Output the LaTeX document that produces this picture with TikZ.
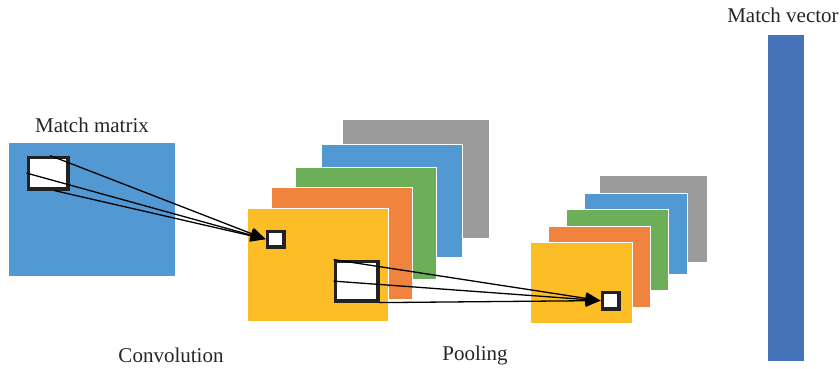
\documentclass[tikz,border=0pt]{standalone}
\usepackage{fontspec}
\setmainfont{Liberation Serif}
\usetikzlibrary{arrows.meta,calc}
\definecolor{mblue}{HTML}{5298D2}
\definecolor{myellow}{HTML}{FDBD26}
\definecolor{morange}{HTML}{F0843F}
\definecolor{mgreen}{HTML}{6CAF58}
\definecolor{mgray}{HTML}{9B9B9C}
\definecolor{mvec}{HTML}{4672B9}
\definecolor{mframe}{HTML}{222222}
\tikzset{
  sheet/.style={draw=white, line width=1pt, inner sep=0pt, anchor=north west},
  window/.style={draw=mframe, fill=white, line width=3.2pt, inner sep=0pt, anchor=north west},
  link/.style={line width=1.3pt, black},
  linktip/.style={link, -{Triangle[length=15pt,width=12pt]}},
  caption/.style={font=\fontsize{21}{25}\selectfont, text=black!85, inner sep=0pt}
}
\newcommand{\sheetat}[6]{% name, colour, x0, y0, x1, y1
  \node[sheet, fill=#2, minimum width={(#5-#3)*1pt}, minimum height={(#6-#4)*1pt}] (#1) at (#3,#4) {};}
% frame given by its outer edges; the stroke is centred on the path
\newcommand{\windowat}[5]{% name, x0, y0, x1, y1
  \node[window, minimum width={(#4-#2-3.2)*1pt}, minimum height={(#5-#3-3.2)*1pt}] (#1) at (#2+1.6,#3+1.6) {};}
\begin{document}
\begin{tikzpicture}[x=1pt, y=-1pt]
\useasboundingbox (0,0) rectangle (840,368);

% input matrix
\node[inner sep=0pt, anchor=north west, fill=mblue, minimum width=166pt, minimum height=133pt] (mm) at (9,143) {};
\node[caption] (mmlabel) at (92,125) {Match matrix};

% convolution feature maps, back to front
\sheetat{cgray}{mgray}{342}{119}{489}{238}
\sheetat{cblue}{mblue}{321}{144}{462}{257}
\sheetat{cgreen}{mgreen}{295}{167}{436}{279}
\sheetat{corange}{morange}{271}{187}{412}{299}
\sheetat{cyellow}{myellow}{247}{208}{388}{321}

% pooling feature maps, back to front
\sheetat{pgray}{mgray}{599}{175}{707}{262}
\sheetat{pblue}{mblue}{584}{193}{687}{274}
\sheetat{pgreen}{mgreen}{566}{209}{668}{290}
\sheetat{porange}{morange}{548}{226}{650}{307}
\sheetat{pyellow}{myellow}{530}{242}{632}{323}

% match vector
\node[inner sep=0pt, anchor=north west, fill=mvec, minimum width=36pt, minimum height=326pt] (mv) at (768,35) {};
\node[caption] (mvlabel) at (783,15) {Match vector};

% windows
\windowat{mmwin}{25}{154}{68}{189}
\windowat{convwin}{264}{228}{284}{247}
\windowat{convbig}{332}{258}{378}{301}
\windowat{poolwin}{599}{289}{619}{309}

% receptive-field rays
\coordinate (a1) at ($(mmwin.north west)!0.55!(mmwin.north east)$);
\coordinate (a2) at ($(mmwin.north west)!0.5!(mmwin.south west)$);
\coordinate (a3) at ($(mmwin.south west)!0.65!(mmwin.south east)$);
\draw[linktip] (a1) -- (convwin.west);
\draw[linktip] (a2) -- (convwin.west);
\draw[linktip] (a3) -- (convwin.west);

\coordinate (b2) at ($(convbig.north west)!0.5!(convbig.south west)$);
\draw[linktip] (convbig.north west) -- (poolwin.west);
\draw[linktip] (b2) -- (poolwin.west);
\draw[linktip] (convbig.south east) -- (poolwin.west);

% stage captions
\node[caption] (convlabel) at (171,355) {Convolution};
\node[caption] (poollabel) at (475,355) {Pooling};
\end{tikzpicture}
\end{document}
